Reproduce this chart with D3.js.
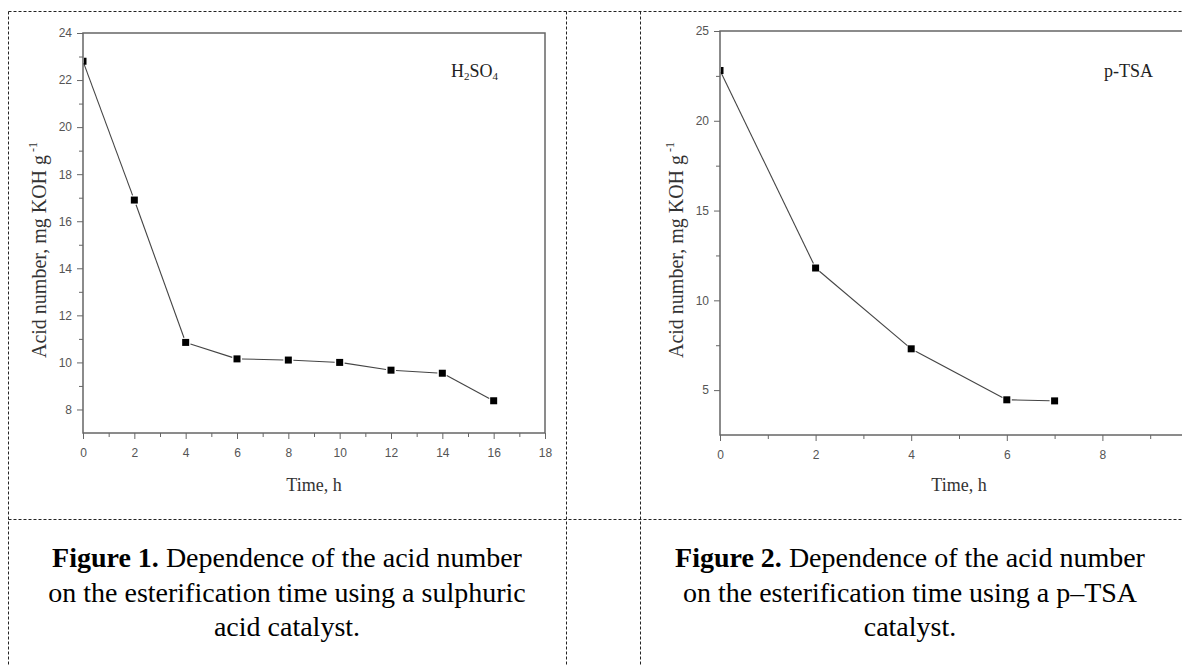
<html>
<head>
<meta charset="utf-8">
<script src="https://cdn.jsdelivr.net/npm/d3@7"></script>
<style>
body { margin: 0; background: white; }
svg { display: block; }
.tick text { font-family: "Liberation Sans", Arial, sans-serif; font-size: 12px; fill: #555; }
.axis path, .axis line { stroke: #666; }
.title { font-family: "Liberation Serif", "Times New Roman", serif; fill: #333; }
.caption { font-family: "Liberation Serif", "Times New Roman", serif; font-size: 28px; fill: #000; }
.cell { stroke: #222; stroke-width: 1; stroke-dasharray: 3,2; fill: none; }
</style>
</head>
<body>
<svg width="1182" height="666"></svg>
<script>

// Figure 1: H2SO4 catalyst
var timeH2SO4 = [0, 2, 4, 6, 8, 10, 12, 14, 16];
var acidH2SO4 = [22.8, 16.9, 10.85, 10.15, 10.1, 10.0, 9.67, 9.54, 8.37];
var xTicksH2SO4 = [0, 2, 4, 6, 8, 10, 12, 14, 16, 18];
var yTicksH2SO4 = [8, 10, 12, 14, 16, 18, 20, 22, 24];

// Figure 2: p-TSA catalyst
var timePTSA = [0, 2, 4, 6, 7];
var acidPTSA = [22.8, 11.8, 7.3, 4.46, 4.4];
var xTicksPTSA = [0, 2, 4, 6, 8];
var yTicksPTSA = [5, 10, 15, 20, 25];

var svg = d3.select("svg");

// table cells (dashed borders)
var cellLines = [
  [8, 11, 1182, 11], [8, 519, 1182, 519],
  [8, 11, 8, 666], [566, 11, 566, 666], [640, 11, 640, 666]
];
svg.selectAll("line.cell").data(cellLines).enter().append("line")
  .attr("class", "cell")
  .attr("x1", d => d[0] + 0.5).attr("y1", d => d[1] + 0.5)
  .attr("x2", d => d[2] + 0.5).attr("y2", d => d[3] + 0.5);

function drawChart(o) {
  var x = d3.scaleLinear().domain(o.xDomain).range([o.left, o.right]);
  var y = d3.scaleLinear().domain(o.yDomain).range([o.bottom, o.top]);
  var g = svg.append("g");

  // minor ticks
  g.append("g").attr("class", "axis")
    .attr("transform", "translate(0," + o.bottom + ")")
    .call(d3.axisBottom(x).tickValues(o.xMinor).tickSize(4).tickFormat(""))
    .select(".domain").remove();
  g.append("g").attr("class", "axis")
    .attr("transform", "translate(" + o.left + ",0)")
    .call(d3.axisLeft(y).tickValues(o.yMinor).tickSize(4).tickFormat(""))
    .select(".domain").remove();

  // major ticks
  var xa = g.append("g").attr("class", "axis")
    .attr("transform", "translate(0," + o.bottom + ")")
    .call(d3.axisBottom(x).tickValues(o.xTicks).tickSize(6).tickPadding(9).tickSizeOuter(0));
  var ya = g.append("g").attr("class", "axis")
    .attr("transform", "translate(" + o.left + ",0)")
    .call(d3.axisLeft(y).tickValues(o.yTicks).tickSize(6).tickPadding(5).tickSizeOuter(0));
  xa.select(".domain").remove();
  ya.select(".domain").remove();

  // frame
  g.append("rect")
    .attr("x", x(o.xDomain[0])).attr("y", y(o.yDomain[1]))
    .attr("width", x(o.xDomain[1]) - x(o.xDomain[0]))
    .attr("height", y(o.yDomain[0]) - y(o.yDomain[1]))
    .attr("fill", "none").attr("stroke", "#666").attr("stroke-width", 1.5);

  // line segments with small gaps at markers
  var pts = o.xs.map((t, i) => [x(t), y(o.ys[i])]);
  var gap = 5;
  var segs = [];
  for (var i = 0; i < pts.length - 1; i++) {
    var a = pts[i], b = pts[i + 1];
    var dx = b[0] - a[0], dy = b[1] - a[1], len = Math.sqrt(dx * dx + dy * dy);
    var ux = dx / len, uy = dy / len;
    var g0 = i === 0 ? 2 : gap;
    segs.push([a[0] + ux * g0, a[1] + uy * g0, b[0] - ux * gap, b[1] - uy * gap]);
  }
  g.selectAll("line.seg").data(segs).enter().append("line")
    .attr("x1", d => d[0]).attr("y1", d => d[1])
    .attr("x2", d => d[2]).attr("y2", d => d[3])
    .attr("stroke", "#444").attr("stroke-width", 1.1);

  // markers clipped to plot area
  g.append("clipPath").attr("id", o.id + "clip").append("rect")
    .attr("x", o.left + 1).attr("y", o.top).attr("width", o.right - o.left).attr("height", o.bottom - o.top);
  g.append("g").attr("clip-path", "url(#" + o.id + "clip)")
    .selectAll("rect").data(o.xs).enter().append("rect")
    .attr("x", (t) => x(t) - 3.5)
    .attr("y", (t, i) => y(o.ys[i]) - 3.5)
    .attr("width", 7).attr("height", 7).attr("fill", "#000");

  // axis titles
  g.append("text").attr("class", "title")
    .attr("x", o.xTitleX).attr("y", 491)
    .attr("text-anchor", "middle").style("font-size", "18px")
    .text("Time, h");

  var yt = g.append("text").attr("class", "title")
    .attr("transform", "translate(" + o.yTitleX + ",250) rotate(-90)")
    .attr("text-anchor", "middle").style("font-size", "20px");
  yt.append("tspan").text("Acid number, mg KOH g");
  yt.append("tspan").attr("dy", -9).style("font-size", "12px").text(" -1");

  // catalyst label
  var lab = g.append("text").attr("class", "title")
    .attr("x", o.labelX).attr("y", 77).style("font-size", "18px").style("fill", "#222");
  o.label.forEach(function(p) {
    var s = lab.append("tspan").text(p[0]);
    if (p[1]) s.attr("dy", 3).style("font-size", "11px");
    else if (p[2]) s.attr("dy", -3);
  });
}

drawChart({
  id: "h2so4", xs: timeH2SO4, ys: acidH2SO4,
  xDomain: [0, 18], yDomain: [7, 24],
  left: 83, right: 545, top: 33, bottom: 433,
  xTicks: xTicksH2SO4, yTicks: yTicksH2SO4,
  xMinor: d3.range(1, 18, 2), yMinor: d3.range(9, 24, 2),
  xTitleX: 314, yTitleX: 46, labelX: 451,
  label: [["H"], ["2", true], ["SO", false, true], ["4", true]]
});

drawChart({
  id: "ptsa", xs: timePTSA, ys: acidPTSA,
  xDomain: [0, 10], yDomain: [2.5, 25],
  left: 720, right: 1198, top: 31, bottom: 435,
  xTicks: xTicksPTSA, yTicks: yTicksPTSA,
  xMinor: d3.range(1, 10, 2), yMinor: [7.5, 12.5, 17.5, 22.5],
  xTitleX: 959, yTitleX: 683, labelX: 1104,
  label: [["p-TSA"]]
});

// captions
var captions = [
  { cx: 287, bold: "Figure 1.", lines: [" Dependence of the acid number", "on the esterification time using a sulphuric", "acid catalyst."] },
  { cx: 910, bold: "Figure 2.", lines: [" Dependence of the acid number", "on the esterification time using a p\u2013TSA", "catalyst."] }
];
captions.forEach(function(c) {
  var t = svg.append("text").attr("class", "caption").attr("text-anchor", "middle");
  var l1 = t.append("tspan").attr("x", c.cx).attr("y", 567);
  l1.append("tspan").style("font-weight", "bold").text(c.bold);
  l1.append("tspan").text(c.lines[0]);
  t.append("tspan").attr("x", c.cx).attr("y", 602).text(c.lines[1]);
  t.append("tspan").attr("x", c.cx).attr("y", 636).text(c.lines[2]);
});

</script>
</body>
</html>
